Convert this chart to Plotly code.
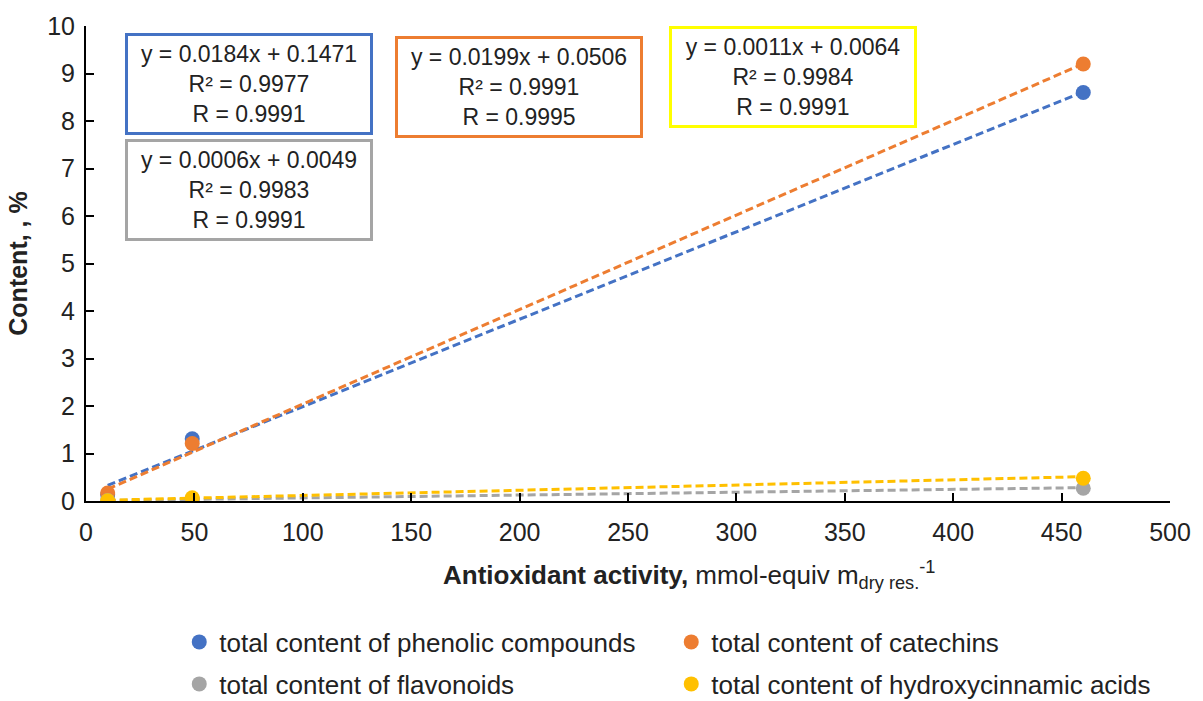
import plotly.graph_objects as go

# ---- data ----
x_activity = [10, 49, 460]
phenolic = [0.13, 1.31, 8.60]
catechins = [0.17, 1.21, 9.20]
flavonoids = [0.01, 0.04, 0.27]
hydroxycinnamic = [0.005, 0.07, 0.48]

series_names = [
    "total content of phenolic compounds",
    "total content of catechins",
    "total content of flavonoids",
    "total content of hydroxycinnamic acids",
]
series_values = [phenolic, catechins, flavonoids, hydroxycinnamic]
slopes = [0.0184, 0.0199, 0.0006, 0.0011]
intercepts = [0.1471, 0.0506, 0.0049, 0.0064]
r2_values = [0.9977, 0.9991, 0.9983, 0.9984]
r_values = [0.9991, 0.9995, 0.9991, 0.9991]

x_ticks = [0, 50, 100, 150, 200, 250, 300, 350, 400, 450, 500]
y_ticks = [0, 1, 2, 3, 4, 5, 6, 7, 8, 9, 10]

# ---- style ----
colors = ["#4472C4", "#ED7D31", "#A5A5A5", "#FFC000"]
box_borders = ["#4472C4", "#ED7D31", "#A5A5A5", "#FFFF00"]
box_pos = [(75, 8.78), (199.5, 8.72), (75, 6.55), (326, 8.92)]
legend_ids = ["legend", "legend", "legend2", "legend2"]
FONT = "Arial, Liberation Sans, sans-serif"

fig = go.Figure()

# trendlines (drawn first so markers sit on top)
for i in range(4):
    xs = [x_activity[0], x_activity[-1]]
    ys = [slopes[i] * xv + intercepts[i] for xv in xs]
    fig.add_trace(go.Scatter(
        x=xs, y=ys, mode="lines",
        line=dict(color=colors[i], width=3, dash="8px,4px"),
        showlegend=False, hoverinfo="skip",
    ))

for i in range(4):
    fig.add_trace(go.Scatter(
        x=x_activity, y=series_values[i], mode="markers",
        marker=dict(color=colors[i], size=15),
        name=series_names[i], legend=legend_ids[i],
    ))

for i in range(4):
    txt = (f"y = {slopes[i]:.4f}x + {intercepts[i]:.4f}<br>"
           f"R² = {r2_values[i]:.4f}<br>R = {r_values[i]:.4f}")
    fig.add_annotation(
        x=box_pos[i][0], y=box_pos[i][1], xref="x", yref="y",
        text=txt, showarrow=False, align="center",
        font=dict(family=FONT, size=23, color="#222222"),
        bordercolor=box_borders[i], borderwidth=3, borderpad=3,
        bgcolor="white", width=236, height=90,
    )

# x-axis title (placed as in the reference, slightly right of centre)
fig.add_annotation(
    xref="paper", yref="paper", x=0.5565, y=-0.155,
    xanchor="center", yanchor="middle", showarrow=False,
    text="<b>Antioxidant activity,</b> mmol-equiv m<sub>dry res.</sub><sup>-1</sup>",
    font=dict(family=FONT, size=26, color="#222222"),
)

legend_common = dict(
    orientation="h", xref="container", yref="container",
    x=0.149, xanchor="left", yanchor="middle",
    entrywidth=447, entrywidthmode="pixels",
    font=dict(family=FONT, size=26, color="#222222"),
    bgcolor="rgba(0,0,0,0)", itemwidth=30,
)

fig.update_layout(
    width=1203, height=701,
    margin=dict(l=86, r=28, t=26, b=200),
    paper_bgcolor="white", plot_bgcolor="white",
    font=dict(family=FONT, color="#222222"),
    legend=dict(**legend_common, y=1 - 642 / 701),
    legend2=dict(**legend_common, y=1 - 684 / 701),
    xaxis=dict(
        range=[0, 500], tickvals=x_ticks, showgrid=False, zeroline=False,
        showline=True, linecolor="black", linewidth=2,
        ticks="inside", ticklen=8, tickwidth=2, tickcolor="black",
        tickfont=dict(family=FONT, size=25, color="#222222"),
        ticklabelstandoff=8,
    ),
    yaxis=dict(
        range=[0, 10], tickvals=y_ticks, showgrid=False, zeroline=False,
        showline=True, linecolor="black", linewidth=2,
        ticks="inside", ticklen=8, tickwidth=2, tickcolor="black",
        tickfont=dict(family=FONT, size=25, color="#222222"),
        ticklabelstandoff=4,
        title=dict(text="<b>Content, , %</b>",
                   font=dict(family=FONT, size=25, color="#222222"), standoff=12),
    ),
)

fig.write_html("out.html")
